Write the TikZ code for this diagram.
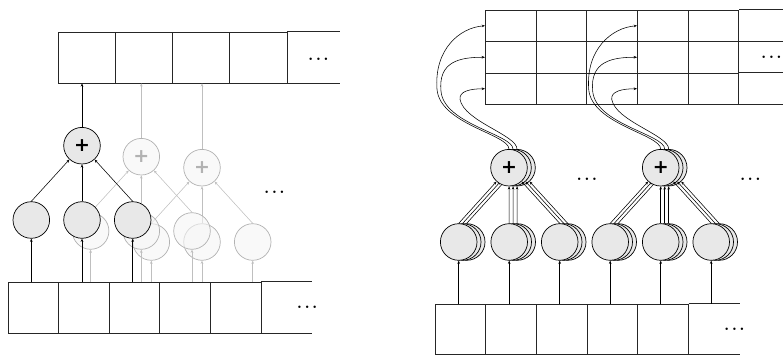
\documentclass[tikz,border=0pt]{standalone}
\usepackage{fontspec}
\newfontfamily\plusfont{DejaVu Sans}
\usetikzlibrary{arrows.meta,calc}
\newcommand\mydots{.\kern2.3pt.\kern2.3pt.}
\tikzset{
  dline/.style={->, draw=black, line width=0.55pt},
  gline/.style={->, draw=black!25, line width=0.55pt},
  dcirc/.style={circle, draw=black, line width=0.7pt, fill=black!9, minimum size=36.6pt, inner sep=0pt, font=\plusfont\bfseries\fontsize{19}{19}\selectfont},
  gcirc/.style={circle, draw=black!30, line width=0.7pt, fill=black!4, fill opacity=0.6, text opacity=1, text=black!30, minimum size=36.6pt, inner sep=0pt, font=\plusfont\bfseries\fontsize{19}{19}\selectfont},
  cellbox/.style={rectangle, draw=black!85, line width=0.7pt, inner sep=0pt},
  arrline/.style={draw=black!85, line width=0.7pt},
  dotsnode/.style={inner sep=0pt, font=\bfseries\fontsize{17}{17}\selectfont}
}
\begin{document}
\begin{tikzpicture}[x=1pt,y=-1pt,>={Stealth[length=3.2pt,width=2.6pt]}]
\useasboundingbox (0,0) rectangle (783,355);

% ================= LEFT PANEL =================
% top array
\foreach \i/\x in {1/86.625,2/143.875,3/201.125,4/258.375}
  \node[cellbox, minimum width=57.25pt, minimum height=51pt] (T\i) at (\x,57.5) {};
\draw[arrline] (T4.north east) -- ++(53,0);
\draw[arrline] (T4.south east) -- ++(53,0);
\node[dotsnode] (Tdots) at (318.5,59.3) {\mydots};

% bottom array
\foreach \i/\x in {1/33.3,2/83.9,3/134.5,4/185.1,5/235.7}
  \node[cellbox, minimum width=50.6pt, minimum height=51pt] (B\i) at (\x,307.5) {};
\draw[arrline] (B5.north east) -- ++(51,0);
\draw[arrline] (B5.south east) -- ++(51,0);
\node[dotsnode] (Bdots) at (307.2,307) {\mydots};
\node[dotsnode] (Mdots) at (274.5,192.7) {\mydots};

% gray tree 3
\node[gcirc] (g3c1) at (151.3,242) {};
\node[gcirc] (g3c2) at (202,242) {};
\node[gcirc] (g3c3) at (252.7,242) {};
\node[gcirc] (g3p) at (202,167.7) {+};
\foreach \c in {1,2,3} {
  \draw[gline] (g3c\c.south |- B1.north) -- (g3c\c.south);
  \draw[gline] (g3c\c.north) -- (g3p);
}
\draw[gline] (g3p.north) -- (g3p.north |- T1.south);

% gray tree 2
\node[gcirc] (g2c1) at (90.6,231) {};
\node[gcirc] (g2c2) at (141.3,231) {};
\node[gcirc] (g2c3) at (192,231) {};
\node[gcirc] (g2p) at (141.3,156.7) {+};
\foreach \c in {1,2,3} {
  \draw[gline] (g2c\c.south |- B1.north) -- (g2c\c.south);
  \draw[gline] (g2c\c.north) -- (g2p);
}
\draw[gline] (g2p.north) -- (g2p.north |- T1.south);

% dark tree
\node[dcirc] (c1) at (31.3,220) {};
\node[dcirc] (c2) at (82,220) {};
\node[dcirc] (c3) at (132.7,220) {};
\node[dcirc] (p1) at (82,145.7) {+};
\foreach \c in {1,2,3} {
  \draw[dline] (c\c.south |- B1.north) -- (c\c.south);
  \draw[dline] (c\c.north) -- (p1);
}
\draw[dline] (p1.north) -- (p1.north |- T1.south);

% ================= RIGHT PANEL =================
% grid
\foreach \r/\y in {1/25.75,2/57.25,3/88.75}
  \foreach \c/\x in {1/510.635,2/561.305,3/611.975,4/662.645,5/713.315}
    \node[cellbox, minimum width=50.67pt, minimum height=31.5pt] (G\r\c) at (\x,\y) {};
\foreach \r in {1,2,3} \draw[arrline] (G\r5.north east) -- ++(46,0);
\draw[arrline] (G35.south east) -- ++(46,0);
\node[dotsnode] (Gdots) at (771.5,56.9) {\mydots};

% bottom array
\foreach \i/\x in {1/460.3,2/511,3/561.7,4/612.3,5/663}
  \node[cellbox, minimum width=50.67pt, minimum height=50.3pt] (R\i) at (\x,329.15) {};
\draw[arrline] (R5.north east) -- ++(51,0);
\draw[arrline] (R5.south east) -- ++(51,0);
\node[dotsnode] (Rdots) at (734.5,329.3) {\mydots};
\node[dotsnode] (Pdots1) at (587,179.3) {\mydots};
\node[dotsnode] (Pdots2) at (750.3,179.3) {\mydots};

% stacked layers, back to front
\foreach \k in {2,1,0} {
  \begin{scope}[xshift=4*\k pt]
    \foreach \i/\x in {1/458.7,2/509.2,3/559.7,4/610.2,5/660.7,6/711.2}
      \node[dcirc] (s\i\k) at (\x,242) {};
    \node[dcirc] (P1\k) at (509,167.7) {\ifnum\k=0 +\fi};
    \node[dcirc] (P2\k) at (660.7,167.7) {\ifnum\k=0 +\fi};
    \foreach \i in {1,2,3} \draw[dline] (s\i\k.north) -- (P1\k);
    \foreach \i in {4,5,6} \draw[dline] (s\i\k.north) -- (P2\k);
  \end{scope}
}
% input arrows
\foreach \i in {1,...,6}
  \draw[dline] (s\i0.south |- R1.north) -- (s\i0.south);

% curves to grid rows
\foreach \j/\c in {1/1,2/4} {
  \draw[dline] (P\j0.north) .. controls +(0,-14.7) and +(3,35) .. ($(P\j0.north)+(-72,-59.7)$)
     .. controls +(-3,-40) and +(-25.3,2) .. (G1\c.west);
  \draw[dline] (P\j1.north) .. controls +(0,-14.7) and +(3,33) .. ($(P\j1.north)+(-72,-57.7)$)
     .. controls +(-3,-30) and +(-25,0) .. (G2\c.west);
  \draw[dline] (P\j2.north) .. controls +(0,-14) and +(4,22) .. ($(P\j2.north)+(-57,-49.7)$)
     .. controls +(-1,-8) and +(-15,0) .. (G3\c.west);
}
\end{tikzpicture}
\end{document}
